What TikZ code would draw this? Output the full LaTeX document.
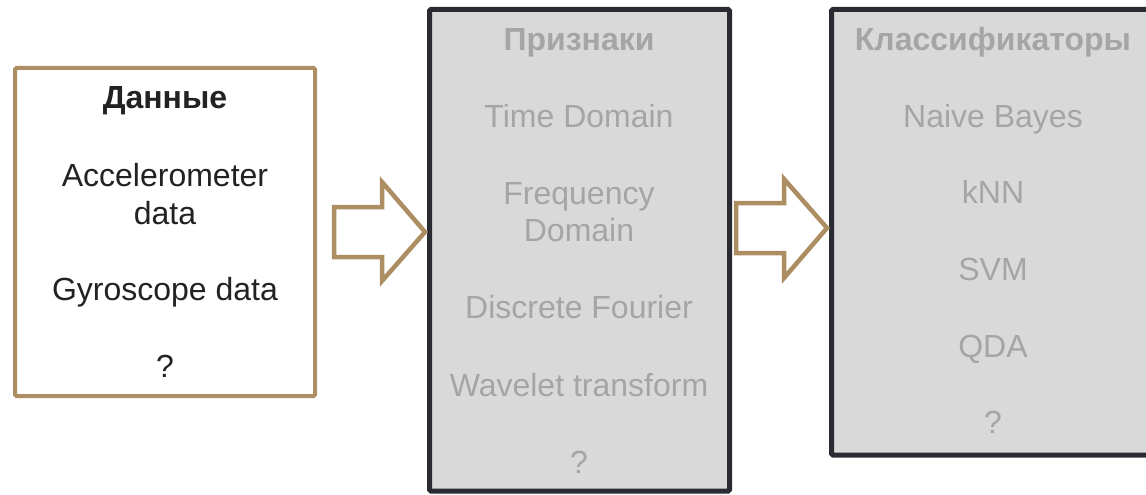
\documentclass[tikz,border=0pt]{standalone}
\usepackage{fontspec}
\setmainfont{Liberation Sans}
\definecolor{tan}{HTML}{AD8E63}
\definecolor{darkb}{HTML}{2A2A33}
\definecolor{boxfill}{HTML}{D9D9D9}
\definecolor{grtext}{HTML}{A5A5A5}
\definecolor{dktext}{HTML}{222222}
\begin{document}
\begin{tikzpicture}[x=1pt,y=-1pt,
  databox/.style={draw=tan,line width=4pt,fill=white,rounded corners=1.5pt},
  grbox/.style={draw=darkb,line width=5pt,fill=boxfill,rounded corners=1.5pt},
  blockarrow/.style={draw=tan,line width=4.5pt,fill=white,line join=miter},
  dtxt/.style={anchor=base,inner sep=0pt,text=dktext,font=\fontsize{32}{38}\selectfont},
  dtitle/.style={dtxt,font=\fontsize{32}{38}\selectfont\bfseries},
  gtxt/.style={anchor=base,inner sep=0pt,text=grtext,font=\fontsize{32}{38}\selectfont},
  gtitle/.style={gtxt,font=\fontsize{32}{38}\selectfont\bfseries}]
\useasboundingbox (0,0) rectangle (1146,495);
\clip (0,0) rectangle (1146,495);
% boxes
\draw[databox] (15,68) rectangle (315,396);
\draw[grbox] (429.5,9.5) rectangle (729.5,491);
\draw[grbox] (831.5,9.5) rectangle (1160,455);
% block arrows
\draw[blockarrow] (334,207) -- (382,207) -- (382,182) -- (425,232) -- (382,281) -- (382,257) -- (334,257) -- cycle;
\draw[blockarrow] (736,203) -- (784,203) -- (784,179) -- (827,228) -- (784,278) -- (784,253) -- (736,253) -- cycle;
% box 1 text
\node[dtitle] (d0) at (165,108) {Данные};
\node[dtxt] (d1) at (165,186) {Accelerometer};
\node[dtxt] (d2) at (165,224) {data};
\node[dtxt] (d3) at (165,300) {Gyroscope data};
\node[dtxt] (d4) at (165,377) {?};
% box 2 text
\node[gtitle] (f0) at (579,51) {Признаки};
\node[gtxt] (f1) at (579,127) {Time Domain};
\node[gtxt] (f2) at (579,204) {Frequency};
\node[gtxt] (f3) at (579,241) {Domain};
\node[gtxt] (f4) at (579,318) {Discrete Fourier};
\node[gtxt] (f5) at (579,396) {Wavelet transform};
\node[gtxt] (f6) at (579,473) {?};
% box 3 text
\node[gtitle] (c0) at (993,51) {Классификаторы};
\node[gtxt] (c1) at (993,127) {Naive Bayes};
\node[gtxt] (c2) at (993,203) {kNN};
\node[gtxt] (c3) at (993,280) {SVM};
\node[gtxt] (c4) at (993,357) {QDA};
\node[gtxt] (c5) at (993,433) {?};
\end{tikzpicture}
\end{document}
